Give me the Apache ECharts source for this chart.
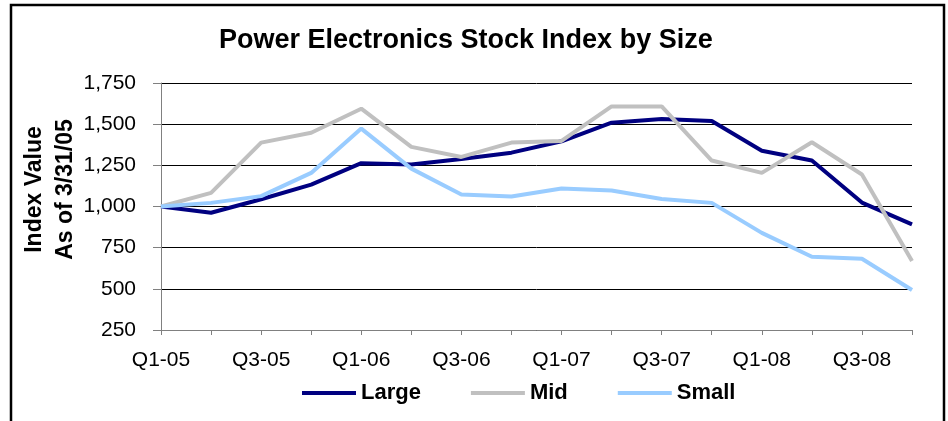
<!DOCTYPE html>
<html>
<head>
<meta charset="utf-8">
<style>
  html, body { margin: 0; padding: 0; background: #fff; }
  #main { width: 948px; height: 421px; }
</style>
<script src="https://cdn.jsdelivr.net/npm/echarts@6/dist/echarts.min.js"></script>
</head>
<body>
<div id="main"></div>
<script>
// quarters, Q1-05 .. Q4-08
var quarters = ['Q1-05', 'Q2-05', 'Q3-05', 'Q4-05', 'Q1-06', 'Q2-06', 'Q3-06', 'Q4-06',
  'Q1-07', 'Q2-07', 'Q3-07', 'Q4-07', 'Q1-08', 'Q2-08', 'Q3-08', 'Q4-08'];

// index values
var large = [1000, 962, 1044, 1133, 1263, 1255, 1289, 1327, 1396, 1509, 1531, 1519, 1339, 1279, 1024, 891];
var mid = [1000, 1083, 1388, 1448, 1594, 1362, 1301, 1388, 1398, 1608, 1608, 1279, 1204, 1390, 1194, 669];
var small = [1000, 1022, 1063, 1204, 1473, 1230, 1073, 1061, 1109, 1097, 1046, 1022, 840, 695, 683, 493];

var font = 'Liberation Sans, Arial, sans-serif';

var myChart = echarts.init(document.getElementById('main'));

function line (name, data, color) {
  return {
    name: name,
    type: 'line',
    data: data,
    symbol: 'none',
    lineStyle: { color: color, width: 4 },
    itemStyle: { color: color }
  };
}

var option = {
  backgroundColor: '#fff',
  animation: false,
  textStyle: { fontFamily: font, color: '#000' },
  title: {
    text: 'Power Electronics Stock Index by Size',
    left: 214,
    top: 22,
    textStyle: { fontFamily: font, fontSize: 27, fontWeight: 'bold', color: '#000' }
  },
  graphic: [{
    type: 'rect',
    shape: { x: 11, y: 5, width: 933, height: 440 },
    style: { fill: 'none', stroke: '#000', lineWidth: 2.5 },
    silent: true
  }],
  legend: {
    left: 297,
    top: 377,
    icon: 'rect',
    itemWidth: 54,
    itemHeight: 4,
    itemGap: 50,
    textStyle: { fontFamily: font, fontSize: 22, fontWeight: 'bold', color: '#000' },
    data: ['Large', 'Mid', 'Small']
  },
  grid: { left: 161, right: 36, top: 83, bottom: 91, outerBoundsMode: 'none' },
  xAxis: {
    type: 'category',
    boundaryGap: false,
    data: quarters,
    axisLine: { lineStyle: { color: '#808080', width: 1 } },
    axisTick: { show: true, interval: 0, length: 5, lineStyle: { color: '#808080' } },
    axisLabel: { interval: 1, fontSize: 21, color: '#000', margin: 20, fontFamily: font },
    splitLine: { show: false }
  },
  yAxis: {
    type: 'value',
    min: 250,
    max: 1750,
    interval: 250,
    name: 'Index Value\nAs of 3/31/05',
    nameLocation: 'middle',
    nameRotate: 90,
    nameGap: 80,
    nameMoveOverlap: false,
    nameTextStyle: {
      fontFamily: font, fontSize: 23, fontWeight: 'bold', color: '#000',
      lineHeight: 31, padding: [0, 0, 0, 34]
    },
    axisLine: { show: true, lineStyle: { color: '#808080', width: 1 } },
    axisTick: { show: true, length: 8, lineStyle: { color: '#808080' } },
    axisLabel: {
      fontSize: 21, color: '#000', margin: 25, fontFamily: font,
      formatter: function (v) { return v.toLocaleString('en-US'); }
    },
    splitLine: { show: true, lineStyle: { color: '#000', width: 1 } }
  },
  series: [
    line('Large', large, '#000080'),
    line('Mid', mid, '#C0C0C0'),
    line('Small', small, '#99CCFF')
  ]
};

myChart.setOption(option);
</script>
</body>
</html>
